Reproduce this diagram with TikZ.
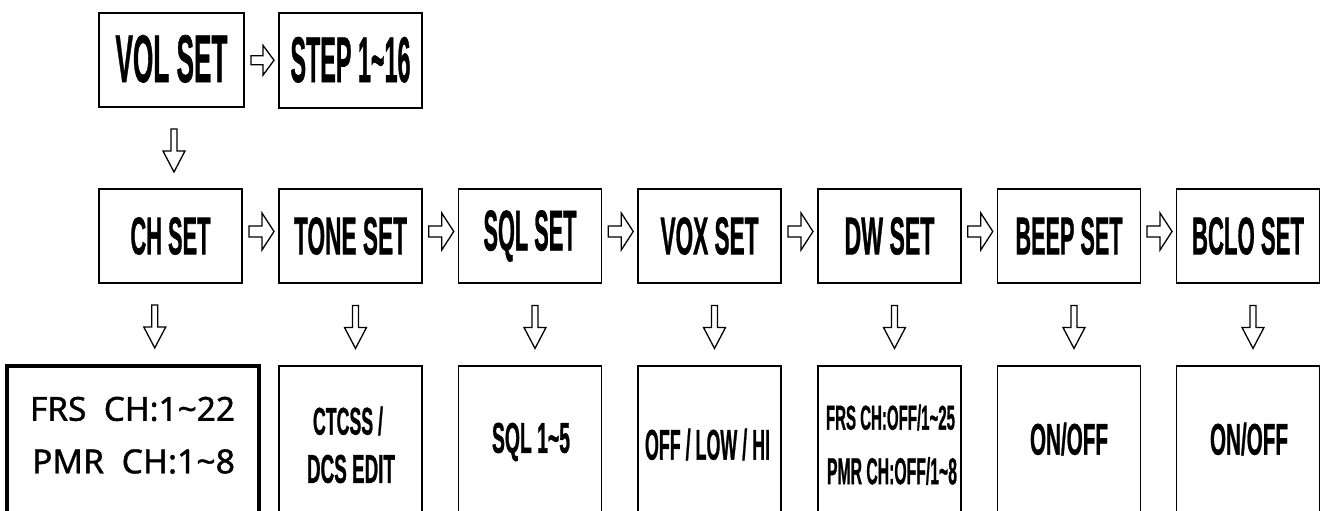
\documentclass[tikz,border=0pt]{standalone}
\usepackage{fontspec}
\usepackage{graphicx}
\setmainfont[BoldFeatures={FakeBold=1.2}]{Liberation Sans}
\newfontfamily\kfont[FakeBold=1.2]{Noto Sans}
\usetikzlibrary{calc}
\newcommand\lbl[3]{\resizebox{#1pt}{#2pt}{\bfseries #3}}
\newcommand\klbl[3]{\resizebox{#1pt}{#2pt}{\kfont #3}}
\tikzset{
  box/.style={draw=black, line width=1.8pt, inner sep=0pt, minimum width=143pt, minimum height=94pt},
  txt/.style={inner sep=0pt},
  blk/.style={draw=black, line width=1.3pt, fill=white, line join=miter},
  harr/.pic={\path[blk] (-12.5,-5.5) -- (0.5,-5.5) -- (0.5,-18.5) -- (12.5,0) -- (0.5,18.5) -- (0.5,5.5) -- (-12.5,5.5) -- cycle;},
  varr/.pic={\path[blk] (-3,-21.5) -- (3,-21.5) -- (3,0.5) -- (11,0.5) -- (0,21.5) -- (-11,0.5) -- (-3,0.5) -- cycle;},
}
\begin{document}
\begin{tikzpicture}[x=1pt,y=-1pt]
\useasboundingbox (0,0) rectangle (1320,511);
\clip (0,0) rectangle (1320,511);
\fill[white] (0,0) rectangle (1320,511);

% top row
\node[box, minimum width=145pt] (vol) at (171.5,60) {\raisebox{3pt}{\lbl{112}{47}{VOL SET}}};
\node[box, minimum height=95pt] (step) at (350.5,60.5) {\raisebox{2pt}{\lbl{120}{45}{STEP 1\textasciitilde16}}};

% second row
\node[box] (ch)   at (170.5,236) {\raisebox{-2.5pt}{\lbl{80}{37}{CH SET}}};
\node[box] (tone) at (350.5,236) {\raisebox{-2.5pt}{\lbl{113}{37}{TONE SET}}};
\node[box] (sql)  at (530,236)   {\raisebox{-2.5pt}{\lbl{93}{40}{SQL SET}}};
\node[box] (vox)  at (709.5,236) {\raisebox{-2.5pt}{\lbl{98}{37}{VOX SET}}};
\node[box] (dw)   at (889.5,236) {\raisebox{-2.5pt}{\lbl{90}{37}{DW SET}}};
\node[box] (beep) at (1069,236)  {\raisebox{-2.5pt}{\lbl{107}{37}{BEEP SET}}};
\node[box] (bclo) at (1248,236)  {\raisebox{-2.5pt}{\lbl{112}{37}{BCLO SET}}};

% third row boxes
\node[box, line width=3.5pt, anchor=north, minimum width=252pt, minimum height=200pt] (chv) at (133,364) {};
\node[box, anchor=north, minimum height=200pt] (tonev) at (350.5,365) {};
\node[box, anchor=north, minimum height=200pt] (sqlv)  at (530,365) {};
\node[box, anchor=north, minimum height=200pt] (voxv)  at (709.5,365) {};
\node[box, anchor=north, minimum height=200pt] (dwv)   at (889.5,365) {};
\node[box, anchor=north, minimum height=200pt] (beepv) at (1069,365) {};
\node[box, anchor=north, minimum height=200pt] (bclov) at (1248,365) {};

% third row texts
\node[txt] (chv1) at (132.5,409) {\klbl{205}{24}{FRS\ \ CH:1\textasciitilde22}};
\node[txt] (chv2) at (133.5,461.5) {\klbl{203}{24}{PMR\ \ CH:1\textasciitilde8}};
\node[txt] (tonev1) at (348,421) {\lbl{70}{28}{CTCSS /}};
\node[txt] (tonev2) at (351,469) {\lbl{88}{28}{DCS EDIT}};
\node[txt] (sqlv1) at (531,442) {\lbl{78}{30}{SQL 1\textasciitilde5}};
\node[txt] (voxv1) at (707.5,444.5) {\lbl{125}{31}{OFF / LOW / HI}};
\node[txt] (dwv1) at (890.5,417.5) {\lbl{129}{25}{FRS CH:OFF/1\textasciitilde25}};
\node[txt] (dwv2) at (892,471) {\lbl{130}{27}{PMR CH:OFF/1\textasciitilde8}};
\node[txt] (beepv1) at (1069,439) {\lbl{78}{32}{ON/OFF}};
\node[txt] (bclov1) at (1249,439) {\lbl{78}{32}{ON/OFF}};

% arrows
\pic[xscale=0.92, yscale=0.81] at ($(vol.east)!0.5!(step.west)+(1,0)$) {harr};
\pic at ($(vol.south)!0.5!(ch.north)+(3,2.5)$) {varr};
\foreach \a/\b in {ch/tone, tone/sql, sql/vox, vox/dw, dw/beep, beep/bclo}
  \pic at ($(\a.east)!0.5!(\b.west)+(1,-4.5)$) {harr};
\pic at ($(ch.south)!0.5!(chv.north)+(3,2.5)$) {varr};
\foreach \a in {tone, sql, vox, dw, beep, bclo}
  \pic at ($(\a.south)!0.5!(\a v.north)+(5,2.5)$) {varr};
\end{tikzpicture}
\end{document}
